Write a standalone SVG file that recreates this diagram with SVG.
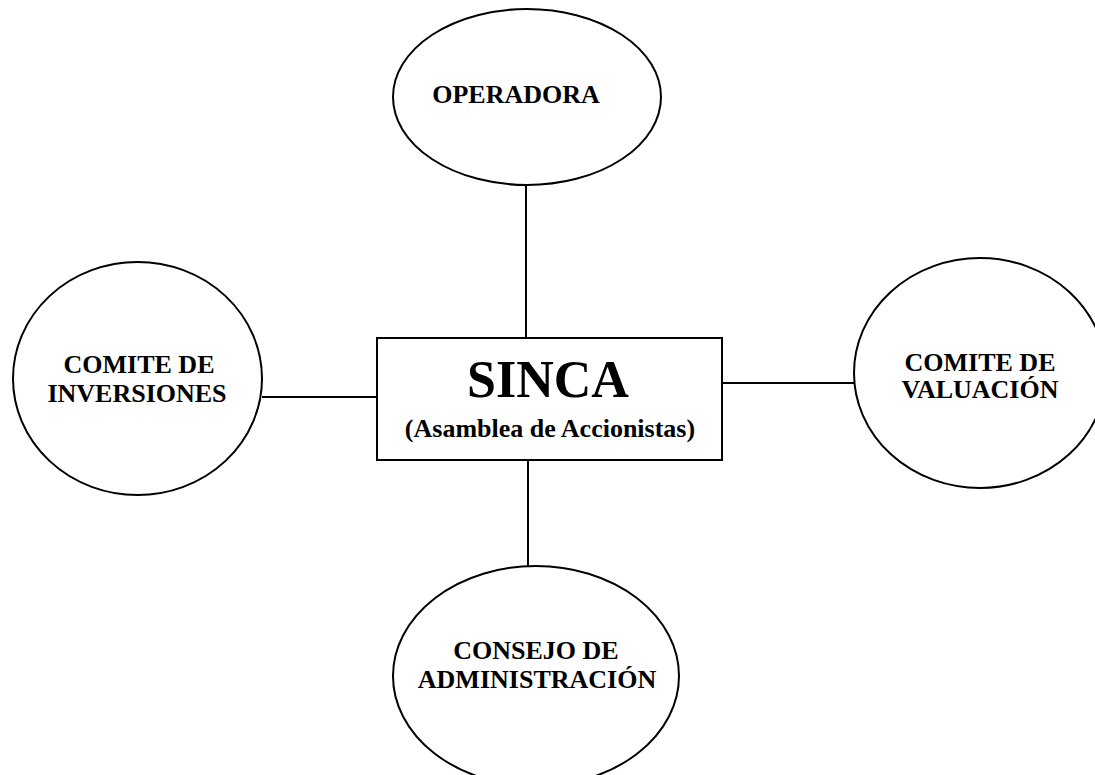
<svg xmlns="http://www.w3.org/2000/svg" width="1095" height="775" viewBox="0 0 1095 775">
<style>
.shape{fill:#fff;stroke:#000;stroke-width:2}
.conn{stroke:#000;stroke-width:2;fill:none}
text{font-family:"Liberation Serif","Times New Roman",serif;font-weight:bold;fill:#000;text-anchor:middle}
.lbl{font-size:26px}
.big{font-size:52px}
</style>
<rect width="1095" height="775" fill="#fff"/>
<g id="connectors">
<line class="conn" x1="526" y1="185" x2="526" y2="338"/>
<line class="conn" x1="528" y1="460" x2="528" y2="566"/>
<line class="conn" x1="262" y1="397" x2="377" y2="397"/>
<line class="conn" x1="722" y1="383" x2="855" y2="383"/>
</g>
<g id="operadora">
<ellipse class="shape" cx="527" cy="97" rx="134" ry="88"/>
<text class="lbl" x="516" y="103">OPERADORA</text>
</g>
<g id="comite-inversiones">
<ellipse class="shape" cx="137.5" cy="378.5" rx="124.5" ry="116.5"/>
<text class="lbl" x="139" y="373">COMITE DE</text>
<text class="lbl" x="137" y="402">INVERSIONES</text>
</g>
<g id="comite-valuacion">
<ellipse class="shape" cx="980" cy="373" rx="126" ry="115"/>
<text class="lbl" x="980" y="371">COMITE DE</text>
<text class="lbl" x="980" y="398">VALUACIÓN</text>
</g>
<g id="sinca">
<rect class="shape" x="377" y="338" width="345" height="122"/>
<text class="big" x="548" y="397">SINCA</text>
<text class="lbl" x="550" y="437">(Asamblea de Accionistas)</text>
</g>
<g id="consejo">
<ellipse class="shape" cx="536" cy="676" rx="143" ry="110"/>
<text class="lbl" x="536" y="659">CONSEJO DE</text>
<text class="lbl" x="537" y="688">ADMINISTRACIÓN</text>
</g>
</svg>
